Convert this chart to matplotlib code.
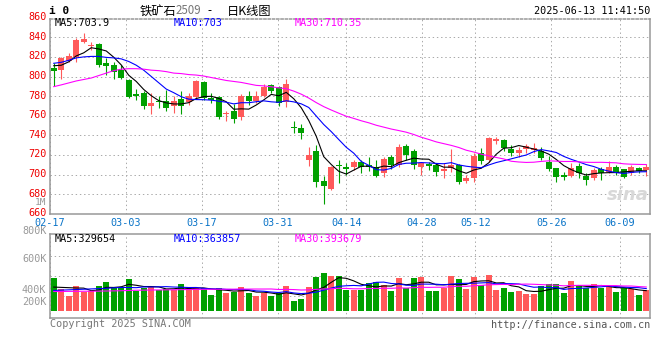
import numpy as np
import pandas as pd
import matplotlib
matplotlib.use('Agg')
import matplotlib.pyplot as plt
from matplotlib.transforms import ScaledTranslation

plt.rcParams['font.family'] = ['DejaVu Sans Mono', 'Noto Sans CJK SC']

# day-candle data (index 0 = 02-17 ... 79 = 06-13)
date_labels = ['02-17', '03-03', '03-17', '03-31', '04-14', '04-28', '05-12', '05-26', '06-09']
date_index = [0, 10, 20, 30, 39, 49, 56, 66, 75]

open_ = [809, 807, 816, 820, 835.5, 831, 833, 813.5, 812, 807,
         796.5, 782, 783, 770.3, 775, 775, 770, 777, 774, 779.5,
         794, 778.5, 779.5, 762, 765, 759, 780, 775, 780.5, 791,
         789, 774.5, 748.5, 748, 715, 724.5, 693.5, 685, 709.5, 707.5,
         707.5, 713, 710, 707.5, 702, 718, 710, 729.5, 724, 708,
         711, 710, 704.5, 706.5, 710, 693.5, 696.5, 722.5, 715, 734.5,
         735.5, 726, 722.5, 726, 725, 724.5, 713, 706.5, 699.7, 699,
         709, 698.7, 697, 705.5, 703, 708, 705.5, 701.5, 707, 705]
high = [813.5, 820, 824, 839, 844, 835.5, 834.5, 818.5, 815, 812,
        798, 787, 785, 783, 780, 786, 780, 785, 783, 796.5,
        795, 783, 780, 764.5, 772, 782, 785.5, 785, 792.5, 792.5,
        790, 797.5, 754.5, 752, 728.5, 730, 698.5, 709, 715, 711.5,
        715, 715, 718, 715.5, 718, 720, 731, 731.5, 726, 713,
        713, 711.5, 711.5, 726, 710.5, 700, 722, 727.5, 738, 738.5,
        736, 730, 728.5, 731.3, 732, 728, 719, 707, 703, 711.5,
        711.5, 701.4, 706.5, 708, 714, 710, 706, 710, 708, 711]
low = [790, 797, 815, 815, 834, 827, 810, 801.5, 798, 797,
       778, 776, 767, 762, 768, 765, 763, 762, 771, 778,
       776, 773, 757, 755, 753, 756, 771, 773, 779, 783,
       770, 769, 743, 736, 709, 688, 670, 684.5, 692, 700,
       705, 702, 704, 698, 698, 705.5, 707.5, 715, 706, 700,
       705, 699, 696.5, 703, 691, 692, 693, 711, 712.7, 731,
       724.5, 719, 718.5, 722.4, 722.5, 715.5, 704, 693, 694.5, 698,
       696.5, 689.5, 694.5, 695, 701.5, 700, 696.5, 700, 701.5, 698.7]
close = [806, 818.5, 821, 837, 838.3, 832, 812, 811, 805, 799,
         779.5, 780.5, 770, 773.4, 774, 768, 775, 770, 780, 795,
         778, 776.5, 759, 763, 757, 780, 775, 780, 789, 785,
         773, 792.5, 747.5, 743, 720, 693, 688.5, 707.5, 708.5, 706,
         713, 708, 708, 699, 716, 710, 728.5, 720, 710, 711.5,
         709, 703, 705, 710, 693, 696.5, 719.5, 714, 737.7, 736.5,
         727.5, 722, 725, 729.3, 727, 717.5, 706, 698, 698, 706.5,
         701.5, 694.6, 705, 701.5, 708, 702, 698, 708, 704, 708]
volume = [533, 359, 249, 408, 315, 326, 408, 473, 396, 370,
          526, 331, 370, 396, 342, 359, 342, 445, 342, 380,
          370, 261, 380, 298, 315, 391, 289, 249, 289, 249,
          289, 408, 163, 196, 391, 554, 619, 575, 575, 342,
          342, 342, 461, 473, 424, 331, 543, 370, 543, 559,
          331, 331, 370, 575, 526, 363, 559, 424, 592, 347,
          380, 315, 331, 282, 282, 403, 440, 440, 293, 494,
          408, 370, 440, 370, 408, 315, 370, 359, 266, 347]
volume = [v * 1000 for v in volume]

# moving-average values before enough days exist in the window
ma5_head = [811, 811.5, 815, 821]
ma10_head = [813.5, 814.5, 816.5, 819, 820, 820.5, 820.5, 819.5, 819]
ma30_head = [789.7, 791.5, 793.5, 795.5, 797, 798.5, 801, 803.5, 806, 807.5,
             808, 808, 807.5, 806.5, 806, 805, 803.5, 803, 802, 801.5,
             800.5, 799, 797.5, 796, 795, 794, 792.5, 791, 790.5]
vma5_head = [390000, 385000, 380000, 375000]
vma10_head = [335000, 340000, 345000, 350000, 355000, 360000, 365000, 370000, 378000]
vma30_head = [318000, 318000, 320000, 320000, 322000, 322000, 324000, 326000, 328000, 330000,
              335000, 338000, 340000, 342000, 343000, 345000, 346000, 348000, 350000, 352000,
              353000, 354000, 355000, 355000, 356000, 357000, 357000, 358000, 358000]

title_name = '铁矿石'
title_code = '2509'
title_kind = '日K线图'
stamp = '2025-06-13 11:41:50'
price_ma_text = ['MA5:703.9', 'MA10:703', 'MA30:710.35']
vol_ma_text = ['MA5:329654', 'MA10:363857', 'MA30:393679']

RED = '#FF5A5A'
GREEN = '#00A000'
MA_COLORS = ['black', '#0000FF', '#FF00FF']
GRID = '#AAAAAA'
SPINE = '#999999'


def with_head(series, n, head):
    s = pd.Series(series).rolling(n).mean().to_numpy()
    s[:len(head)] = head
    return s


x = np.arange(len(close))
o = np.array(open_)
c = np.array(close)
colors = np.where(c >= o, RED, GREEN)

fig = plt.figure(figsize=(6.6, 3.6), dpi=100)
W, H = 660, 360


def box(l, t, r, b):
    return [l / W, 1 - b / H, (r - l) / W, (b - t) / H]


ax = fig.add_axes(box(50, 19, 650, 214))
axv = fig.add_axes(box(50, 234.3, 650, 318.3))

grid_x = [i * 80 / 79 - 0.5 for i in date_index]

# --- price panel
ax.vlines(x, low, high, colors=colors, lw=0.8, zorder=2)
small = np.abs(c - o) < 1.2
body_h = np.where(small, 1.2, np.abs(c - o))
body_b = np.where(small, (o + c) / 2 - 0.6, np.minimum(o, c))
ax.bar(x, body_h, bottom=body_b, width=0.76, color=colors, linewidth=0, zorder=3)

for (n, head), col in zip([(5, ma5_head), (10, ma10_head), (30, ma30_head)], MA_COLORS):
    ax.plot(x, with_head(close, n, head), color=col, lw=0.8, zorder=4)

ax.set_xlim(-0.5, 79.5)
ax.set_ylim(660, 858.6)
ax.set_yticks(range(660, 860, 20))
ax.tick_params(axis='y', length=0, pad=2.5, labelsize=7.3, labelcolor='#EE0000')
ax.set_xticks(grid_x)
ax.set_xticklabels(date_labels)
ax.tick_params(axis='x', length=0, pad=2.6, labelsize=7.3, labelcolor='#0A74C8')
ax.grid(True, color=GRID, linestyle=(0, (1.4, 2.8)), lw=0.72)
ax.set_axisbelow(True)
lift = ScaledTranslation(0, 0.016, fig.dpi_scale_trans)
for lab in ax.get_yticklabels():
    lab.set_transform(lab.get_transform() + lift)
ax.text(-0.006, 1.008, '860', transform=ax.transAxes, ha='right', va='center',
        color='#EE0000', fontsize=7.3)
ax.text(-0.006, 0.058, '1M', transform=ax.transAxes, ha='right', va='center',
        color='#999999', fontsize=6.8)
for s in ax.spines.values():
    s.set_color(SPINE)
    s.set_linewidth(1.1)
ax.spines['top'].set_linestyle((0, (1.4, 1.4)))
for t, px, col in zip(price_ma_text, [55, 174, 295], MA_COLORS):
    fig.text(px / W, 1 - 23 / H, t, color=col, fontsize=7.3, va='center')
ax.text(0.998, 0.1, 'sina', transform=ax.transAxes, ha='right', va='center',
        color='#D8D8D8', fontsize=13, fontweight='bold', style='italic',
        family='DejaVu Sans', zorder=1)

# --- volume panel
axv.bar(x, volume, width=0.78, color=colors, linewidth=0, zorder=3)
for (n, head), col in zip([(5, vma5_head), (10, vma10_head), (30, vma30_head)], MA_COLORS):
    axv.plot(x, with_head(volume, n, head), color=col, lw=0.8, zorder=4)
vlo, vhi = -119000, 1250000
axv.set_xlim(-0.5, 79.5)
axv.set_ylim(vlo, vhi)
axv.set_xticks(grid_x)
axv.set_xticklabels([])
axv.set_yticks([vlo + f * (vhi - vlo) for f in (0.268, 0.506, 0.744)])
axv.set_yticklabels([])
axv.tick_params(length=0)
axv.grid(True, color=GRID, linestyle=(0, (1.4, 2.8)), lw=0.72)
axv.set_axisbelow(True)
for s in axv.spines.values():
    s.set_color(SPINE)
    s.set_linewidth(1.1)
for lab, f in zip(['800K', '600K', '400K', '200K'], [1.043, 0.706, 0.331, 0.194]):
    axv.text(-0.006, f, lab, transform=axv.transAxes, ha='right', va='center',
             color='#999999', fontsize=7.3)
for t, px, col in zip(vol_ma_text, [55, 174, 295], MA_COLORS):
    fig.text(px / W, 1 - 238.5 / H, t, color=col, fontsize=7.3, va='center')

# --- header and footer texts
fig.text(49 / W, 1 - 11 / H, 'i 0', fontsize=8, fontweight='bold', va='center')
fig.text(140 / W, 1 - 11 / H, title_name, fontsize=8.8, va='center', family='Noto Sans CJK SC')
fig.text(176 / W, 1 - 11 / H, title_code, fontsize=8.3, va='center', color='#777777',
         family='Noto Sans CJK SC')
fig.text(207 / W, 1 - 11 / H, '-', fontsize=8.3, va='center', family='Noto Sans CJK SC')
fig.text(227 / W, 1 - 11 / H, title_kind, fontsize=8.8, va='center', family='Noto Sans CJK SC')
fig.text(650 / W, 1 - 11.5 / H, stamp, fontsize=7.3, ha='right', va='center')
fig.text(50 / W, 1 - 324 / H, 'Copyright 2025 SINA.COM', fontsize=7.3, va='center', color='#777777')
fig.text(650 / W, 1 - 324.5 / H, 'http://finance.sina.com.cn', fontsize=7.3, ha='right',
         va='center', color='#555555')

fig.savefig('out.png', dpi=100)
